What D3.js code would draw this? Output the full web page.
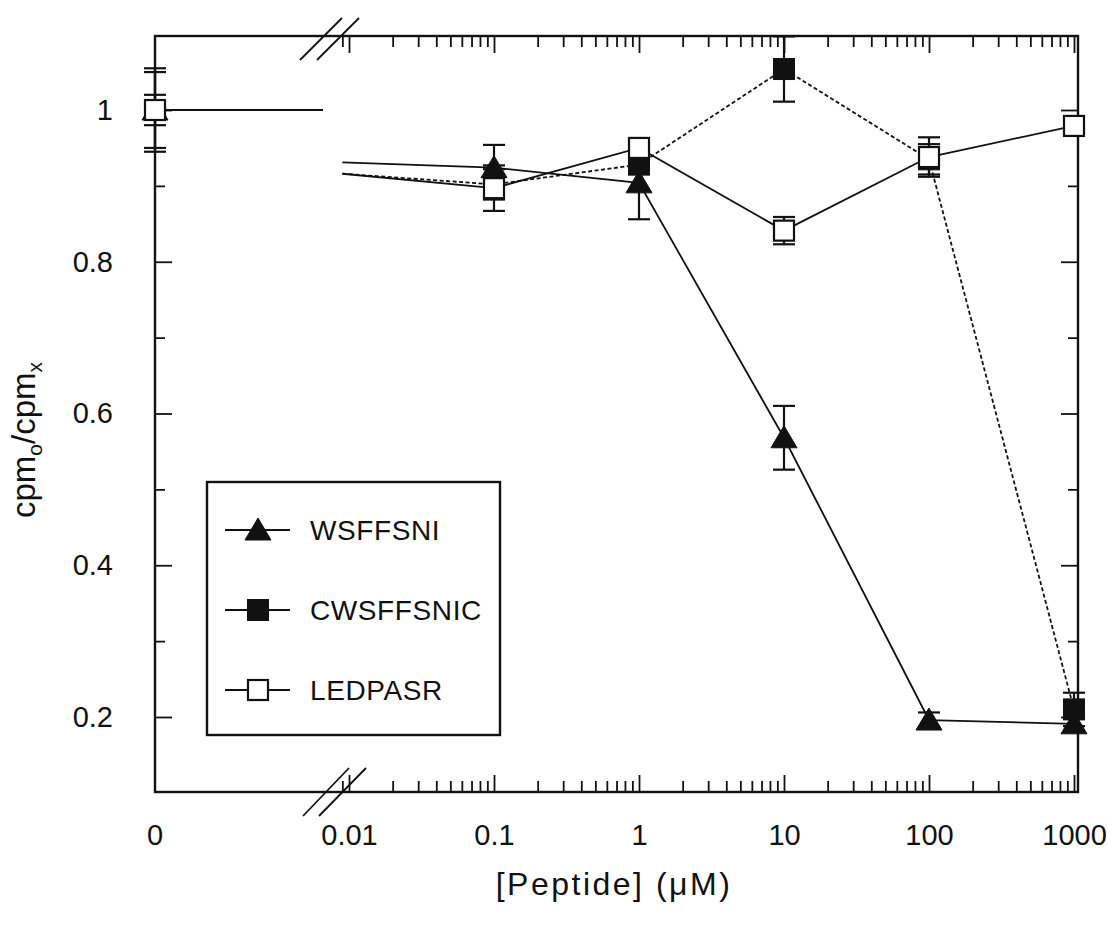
<!DOCTYPE html>
<html><head><meta charset="utf-8">
<script src="https://cdn.jsdelivr.net/npm/d3@7"></script>
<style>
body{margin:0;background:#fff}
svg{display:block}
text{font-family:"Liberation Sans",Arial,Helvetica,sans-serif;fill:#111}
</style>
</head><body>
<svg id="chart" width="1107" height="927"></svg>
<script>
// ---------- data ----------
const zeroTickLabel = "0";
const xTickValues = [0.01, 0.1, 1, 10, 100, 1000];
const xTickLabels = ["0.01", "0.1", "1", "10", "100", "1000"];
const yTickValues = [0.2, 0.4, 0.6, 0.8, 1];
const yTickLabels = ["0.2", "0.4", "0.6", "0.8", "1"];
const yMinorTicks = [0.3, 0.5, 0.7, 0.9];

const concentrations = [0, 0.1, 1, 10, 100, 1000];   // µM, first is the "0" point left of the break
const seriesNames = ["WSFFSNI", "CWSFFSNIC", "LEDPASR"];

const wsffsniValues   = [1.00, 0.924, 0.904, 0.568, 0.196, 0.191];
const wsffsniErrors   = [0.050, 0.030, 0.048, 0.042, 0.010, 0.010];
const cwsffsnicValues = [1.00, 0.902, 0.928, 1.054, 0.935, 0.210];
const cwsffsnicErrors = [0.020, 0.020, 0.010, 0.043, 0.020, 0.022];
const ledpasrValues   = [1.00, 0.897, 0.950, 0.841, 0.938, 0.979];
const ledpasrErrors   = [0.055, 0.030, 0.012, 0.018, 0.026, 0.012];

// value at which each line re-enters the plot just right of the axis break
const breakEntryConcentration = 0.009;
const breakEntryValues = [0.931, 0.916, 0.916];

// ---------- layout ----------
const plotLeft = 155, plotRight = 1078, plotTop = 36, plotBottom = 792;
const svg = d3.select("#chart");

const xZero = d3.scaleLinear().domain([0, 1]).range([plotLeft, 323]); // left segment (0 .. break)
const xLog  = d3.scaleLog().domain([0.01, 1000]).range([349, 1074]);
const y     = d3.scaleLinear().domain([0.2, 1.0]).range([717, 110]);

const series = [
  {name: seriesNames[0], values: wsffsniValues,   errors: wsffsniErrors,   entry: breakEntryValues[0], marker: "tri", dash: null},
  {name: seriesNames[1], values: cwsffsnicValues, errors: cwsffsnicErrors, entry: breakEntryValues[1], marker: "fsq", dash: "4,2.5"},
  {name: seriesNames[2], values: ledpasrValues,   errors: ledpasrErrors,   entry: breakEntryValues[2], marker: "osq", dash: null}
];

function px(c){ return c === 0 ? xZero(0) : xLog(c); }

// ---------- frame ----------
svg.append("rect").attr("x", plotLeft).attr("y", plotTop)
  .attr("width", plotRight - plotLeft).attr("height", plotBottom - plotTop)
  .attr("fill", "none").attr("stroke", "#111").attr("stroke-width", 2.4);

// ---------- x ticks (log, inward, top & bottom) ----------
const minorX = [];
[0.01, 0.1, 1, 10, 100].forEach(d => { for (let k = 2; k <= 9; k++) minorX.push(d * k); });
minorX.push(0.009);

const labelPad = 32;
function xTicks(g, dir){
  g.call(dir === "bottom"
      ? d3.axisBottom(xLog).tickValues(xTickValues).tickSizeInner(-17).tickSizeOuter(0).tickPadding(labelPad).tickFormat((d,i)=>xTickLabels[i])
      : d3.axisTop(xLog).tickValues(xTickValues).tickSizeInner(-17).tickSizeOuter(0).tickFormat(""));
  g.select(".domain").remove();
}
svg.append("g").attr("transform", `translate(0,${plotBottom})`).call(xTicks, "bottom");
svg.append("g").attr("transform", `translate(0,${plotTop})`).call(xTicks, "top");
svg.append("g").attr("transform", `translate(0,${plotBottom})`)
  .call(d3.axisBottom(xLog).tickValues(minorX).tickSizeInner(-11).tickSizeOuter(0).tickFormat(""))
  .select(".domain").remove();
svg.append("g").attr("transform", `translate(0,${plotTop})`)
  .call(d3.axisTop(xLog).tickValues(minorX).tickSizeInner(-11).tickSizeOuter(0).tickFormat(""))
  .select(".domain").remove();
// zero label
svg.append("text").attr("x", xZero(0)).attr("y", plotBottom + labelPad).attr("dy", "0.71em")
  .attr("text-anchor", "middle").attr("font-size", 29).text(zeroTickLabel);

// ---------- y ticks ----------
svg.append("g").attr("transform", `translate(${plotLeft},0)`)
  .call(d3.axisLeft(y).tickValues(yTickValues).tickSizeInner(-17).tickSizeOuter(0).tickPadding(42).tickFormat((d,i)=>yTickLabels[i]))
  .select(".domain").remove();
svg.append("g").attr("transform", `translate(${plotLeft},0)`)
  .call(d3.axisLeft(y).tickValues(yMinorTicks).tickSizeInner(-10).tickSizeOuter(0).tickFormat(""))
  .select(".domain").remove();
svg.append("g").attr("transform", `translate(${plotRight},0)`)
  .call(d3.axisRight(y).tickValues(yTickValues).tickSizeInner(-17).tickSizeOuter(0).tickFormat(""))
  .select(".domain").remove();
svg.append("g").attr("transform", `translate(${plotRight},0)`)
  .call(d3.axisRight(y).tickValues(yMinorTicks).tickSizeInner(-10).tickSizeOuter(0).tickFormat(""))
  .select(".domain").remove();

svg.selectAll(".tick line").attr("stroke", "#111").attr("stroke-width", 1.8);
svg.selectAll(".tick text").attr("font-size", 29).attr("fill", "#111")
  .attr("font-family", '"Liberation Sans",Arial,sans-serif');

// ---------- axis break marks ----------
const breakG = svg.append("g").attr("stroke", "#111").attr("stroke-width", 1.8);
[[300,60,342,18],[317,60,359,18],[303,816,349,768],[319,816,366,768]].forEach(s => {
  breakG.append("line").attr("x1", s[0]).attr("y1", s[1]).attr("x2", s[2]).attr("y2", s[3]);
});

// ---------- lines ----------
const line = d3.line().x(d => d[0]).y(d => y(d[1]));
series.forEach(s => {
  svg.append("path")
    .attr("d", line([[xZero(0), s.values[0]], [xZero(1), s.values[0]]]))
    .attr("fill", "none").attr("stroke", "#111").attr("stroke-width", 1.8)
    .attr("stroke-dasharray", s.dash);
  const pts = [[xLog(breakEntryConcentration), s.entry]];
  concentrations.forEach((c, i) => { if (c > 0) pts.push([xLog(c), s.values[i]]); });
  svg.append("path").attr("d", line(pts))
    .attr("fill", "none").attr("stroke", "#111").attr("stroke-width", 1.8)
    .attr("stroke-dasharray", s.dash);
});

// ---------- error bars ----------
series.forEach(s => {
  const g = svg.append("g").attr("stroke", "#111").attr("stroke-width", 2.2);
  concentrations.forEach((c, i) => {
    const cx = px(c), v = s.values[i], e = s.errors[i];
    g.append("line").attr("x1", cx).attr("x2", cx).attr("y1", y(v - e)).attr("y2", y(v + e));
    [v - e, v + e].forEach(b => g.append("line").attr("x1", cx - 11).attr("x2", cx + 11).attr("y1", y(b)).attr("y2", y(b)));
  });
});

// ---------- markers ----------
function drawMarker(g, type, cx, cy){
  if (type === "tri") {
    g.append("path").attr("d", `M${cx},${cy-12}L${cx+13},${cy+10}L${cx-13},${cy+10}Z`)
      .attr("fill", "#111").attr("stroke", "#111").attr("stroke-width", 1);
  } else if (type === "fsq") {
    g.append("rect").attr("x", cx-10.5).attr("y", cy-10.5).attr("width", 21).attr("height", 21)
      .attr("fill", "#111").attr("stroke", "#111").attr("stroke-width", 1);
  } else {
    g.append("rect").attr("x", cx-10).attr("y", cy-10).attr("width", 20).attr("height", 20)
      .attr("fill", "#fff").attr("stroke", "#111").attr("stroke-width", 2.2);
  }
}
series.forEach(s => {
  const g = svg.append("g");
  concentrations.forEach((c, i) => drawMarker(g, s.marker, px(c), y(s.values[i])));
});

// ---------- legend ----------
const lg = svg.append("g");
lg.append("rect").attr("x", 207).attr("y", 482).attr("width", 293).attr("height", 253)
  .attr("fill", "#fff").attr("stroke", "#111").attr("stroke-width", 2.4);
const legendRows = [530, 610, 690];
series.forEach((s, i) => {
  const ly = legendRows[i];
  lg.append("line").attr("x1", 225).attr("x2", 290).attr("y1", ly).attr("y2", ly)
    .attr("stroke", "#111").attr("stroke-width", 1.8);
  drawMarker(lg, s.marker, 258, ly);
  lg.append("text").attr("x", 310).attr("y", ly).attr("dy", "0.36em")
    .attr("font-size", 28).attr("letter-spacing", 0.6).text(s.name);
});

// ---------- axis titles ----------
svg.append("text").attr("x", 614).attr("y", 895).attr("text-anchor", "middle")
  .attr("font-size", 32).attr("letter-spacing", 2.5).text("[Peptide] (\u03BCM)");

const yt = svg.append("text").attr("transform", "translate(35,440) rotate(-90)")
  .attr("text-anchor", "middle").attr("font-size", 33);
yt.append("tspan").text("cpm");
yt.append("tspan").attr("font-size", 21).attr("dy", 7).text("o");
yt.append("tspan").attr("dy", -7).text("/cpm");
yt.append("tspan").attr("font-size", 21).attr("dy", 7).text("x");
</script>
</body></html>
